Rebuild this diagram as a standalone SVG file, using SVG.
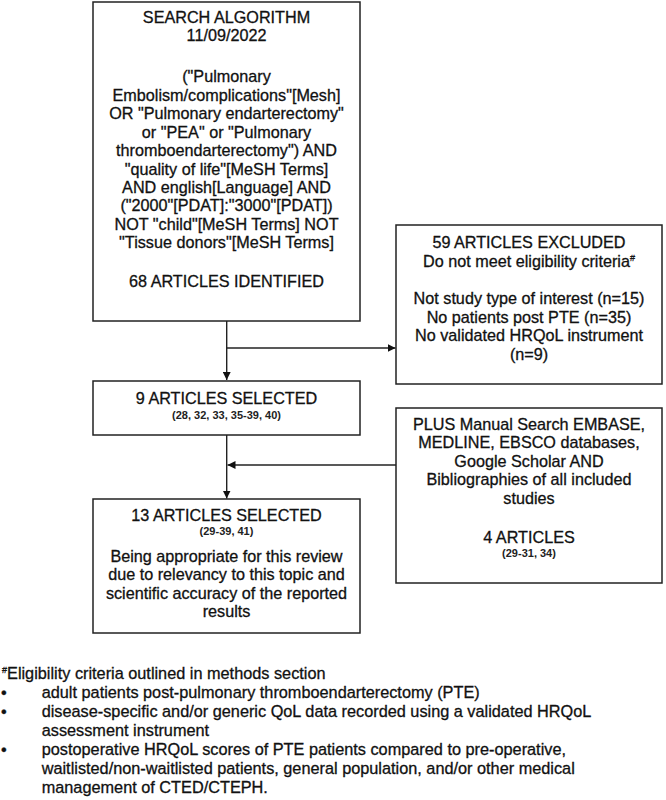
<svg xmlns="http://www.w3.org/2000/svg" width="666" height="800" viewBox="0 0 666 800">
<style>
.box{fill:#fff;stroke:#222;stroke-width:1.5}
.t{font-family:"Liberation Sans",Arial,sans-serif;font-size:16.2px;fill:#111;stroke:#111;stroke-width:0.3;text-anchor:middle}
.s{font-family:"Liberation Sans",Arial,sans-serif;font-size:11px;font-weight:bold;fill:#222;text-anchor:middle}
.n{font-family:"Liberation Sans",Arial,sans-serif;font-size:16.3px;fill:#111;stroke:#111;stroke-width:0.3}
.ln{fill:none;stroke:#222;stroke-width:1.4}
</style>
<defs>
<marker id="ah" viewBox="0 0 10 10" refX="10" refY="5" markerWidth="8" markerHeight="8" markerUnits="userSpaceOnUse" orient="auto">
<path d="M0,0 L10,5 L0,10 Z" fill="#111"/>
</marker>
</defs>
<rect width="666" height="800" fill="#fff"/>
<g id="connectors">
<path class="ln" d="M226.7,321 V380" marker-end="url(#ah)"/>
<path class="ln" d="M226.7,348 H395.5" marker-end="url(#ah)"/>
<path class="ln" d="M226.7,435 V498.5" marker-end="url(#ah)"/>
<path class="ln" d="M396,465 H227.5" marker-end="url(#ah)"/>
</g>
<g id="search">
<rect class="box" x="93" y="2" width="267" height="319"/>
<text class="t" x="226.5" y="22.5">SEARCH ALGORITHM</text>
<text class="t" x="226.5" y="41">11/09/2022</text>
<text class="t" x="226.5" y="82">("Pulmonary</text>
<text class="t" x="226.5" y="100.5">Embolism/complications"[Mesh]</text>
<text class="t" x="226.5" y="119">OR "Pulmonary endarterectomy"</text>
<text class="t" x="226.5" y="137.5">or "PEA" or "Pulmonary</text>
<text class="t" x="226.5" y="156">thromboendarterectomy") AND</text>
<text class="t" x="226.5" y="174.5">"quality of life"[MeSH Terms]</text>
<text class="t" x="226.5" y="193">AND english[Language] AND</text>
<text class="t" x="226.5" y="211">("2000"[PDAT]:"3000"[PDAT])</text>
<text class="t" x="226.5" y="229.5">NOT "child"[MeSH Terms] NOT</text>
<text class="t" x="226.5" y="248">"Tissue donors"[MeSH Terms]</text>
<text class="t" x="226.5" y="287">68 ARTICLES IDENTIFIED</text>
</g>
<g id="excluded">
<rect class="box" x="396" y="225" width="266" height="159"/>
<text class="t" x="529" y="248">59 ARTICLES EXCLUDED</text>
<text class="t" x="529" y="266.5">Do not meet eligibility criteria<tspan font-size="9" dy="-6">#</tspan></text>
<text class="t" x="529" y="304">Not study type of interest (n=15)</text>
<text class="t" x="529" y="322.5">No patients post PTE (n=35)</text>
<text class="t" x="529" y="341">No validated HRQoL instrument</text>
<text class="t" x="529" y="359.5">(n=9)</text>
</g>
<g id="selected9">
<rect class="box" x="93" y="381" width="267" height="54"/>
<text class="t" x="226.5" y="404">9 ARTICLES SELECTED</text>
<text class="s" x="226.5" y="419">(28, 32, 33, 35-39, 40)</text>
</g>
<g id="manual">
<rect class="box" x="396" y="408" width="266" height="175"/>
<text class="t" x="529" y="429.5">PLUS Manual Search EMBASE,</text>
<text class="t" x="529" y="448">MEDLINE, EBSCO databases,</text>
<text class="t" x="529" y="466.5">Google Scholar AND</text>
<text class="t" x="529" y="485">Bibliographies of all included</text>
<text class="t" x="529" y="503.5">studies</text>
<text class="t" x="529" y="543">4 ARTICLES</text>
<text class="s" x="529" y="557">(29-31, 34)</text>
</g>
<g id="selected13">
<rect class="box" x="93" y="499" width="267" height="134"/>
<text class="t" x="226.5" y="520.5">13 ARTICLES SELECTED</text>
<text class="s" x="226.5" y="535">(29-39, 41)</text>
<text class="t" x="226.5" y="561.5">Being appropriate for this review</text>
<text class="t" x="226.5" y="580">due to relevancy to this topic and</text>
<text class="t" x="226.5" y="598.5">scientific accuracy of the reported</text>
<text class="t" x="226.5" y="617">results</text>
</g>
<g id="notes">
<text class="n" x="2" y="679"><tspan font-size="9" dy="-6">#</tspan><tspan dy="6">Eligibility criteria outlined in methods section</tspan></text>
<text class="n" x="1" y="698">•</text>
<text class="n" x="41.7" y="698">adult patients post-pulmonary thromboendarterectomy (PTE)</text>
<text class="n" x="1" y="717">•</text>
<text class="n" x="41.7" y="717">disease-specific and/or generic QoL data recorded using a validated HRQoL</text>
<text class="n" x="41.7" y="736">assessment instrument</text>
<text class="n" x="1" y="755">•</text>
<text class="n" x="41.7" y="755">postoperative HRQoL scores of PTE patients compared to pre-operative,</text>
<text class="n" x="41.7" y="774">waitlisted/non-waitlisted patients, general population, and/or other medical</text>
<text class="n" x="41.7" y="793">management of CTED/CTEPH.</text>
</g>
</svg>
